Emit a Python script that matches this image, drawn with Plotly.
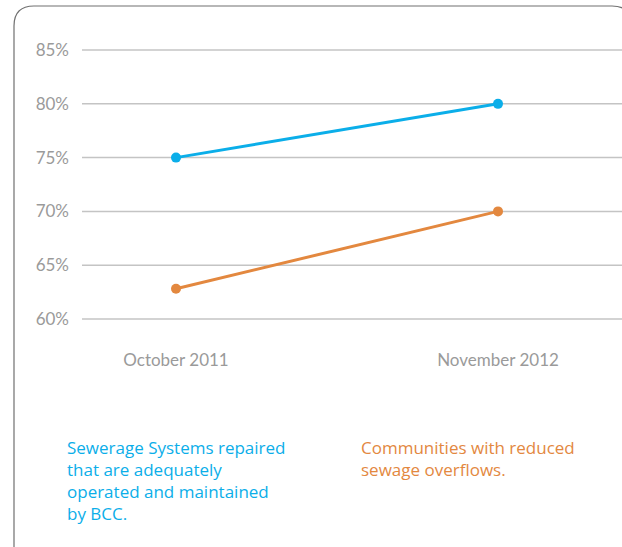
import plotly.graph_objects as go

categories = ["October 2011", "November 2012"]
sewerage_systems = [75, 80]
communities = [62.8, 70]
y_ticks = [60, 65, 70, 75, 80, 85]
y_tick_labels = ["60%", "65%", "70%", "75%", "80%", "85%"]
label_blue = "Sewerage Systems repaired<br>that are adequately<br>operated and maintained<br>by BCC."
label_orange = "Communities with reduced<br>sewage overflows."

W, H = 622, 547
BLUE = "#0BAEE9"
ORANGE = "#E3883F"
FONT = "Lato"
NOTE_FONT = "Open Sans"
GRID = "#C4C4C4"

x_idx = list(range(len(categories)))

fig = go.Figure()
fig.add_trace(go.Scatter(x=x_idx, y=sewerage_systems, mode="lines+markers",
                         line=dict(color=BLUE, width=3), marker=dict(size=10, color=BLUE),
                         hoverinfo="skip", cliponaxis=False))
fig.add_trace(go.Scatter(x=x_idx, y=communities, mode="lines+markers",
                         line=dict(color=ORANGE, width=3), marker=dict(size=10, color=ORANGE),
                         hoverinfo="skip", cliponaxis=False))

def px_x(v):
    return v / W

def px_y(v):
    return 1 - v / H

grid_shapes = [dict(type="line", xref="paper", yref="y", x0=px_x(82), x1=1.0, y0=t, y1=t,
                    line=dict(color=GRID, width=1.5), layer="below")
               for t in y_ticks]

border = dict(type="path", xref="paper", yref="paper",
              path=(f"M {px_x(14)},{px_y(560)} L {px_x(14)},{px_y(26)} "
                    f"Q {px_x(14)},{px_y(6)} {px_x(34)},{px_y(6)} "
                    f"L {px_x(612)},{px_y(6)} Q {px_x(632)},{px_y(6)} {px_x(632)},{px_y(26)} "
                    f"L {px_x(632)},{px_y(560)}"),
              fillcolor="rgba(0,0,0,0)",
              line=dict(color="#707070", width=1.2), layer="below")

fig.update_layout(
    width=W, height=H,
    margin=dict(l=0, r=0, t=0, b=0, autoexpand=False),
    paper_bgcolor="white", plot_bgcolor="rgba(0,0,0,0)",
    showlegend=False,
    font=dict(family=FONT, color="#9A9A9A", size=17),
    xaxis=dict(domain=[px_x(82), 1.0], range=[-94/322, 446/322], automargin=False,
               tickvals=x_idx, ticktext=categories, showgrid=False, zeroline=False,
               showline=False, ticks="", ticklabelstandoff=28,
               tickfont=dict(size=17, color="#9A9A9A")),
    yaxis=dict(domain=[px_y(320), px_y(49)], range=[59.9, 85.1], automargin=False,
               tickvals=y_ticks, ticktext=y_tick_labels, showgrid=False,
               zeroline=False, showline=False,
               ticks="", ticklabelstandoff=12,
               tickfont=dict(size=17, color="#9A9A9A")),
    shapes=grid_shapes + [border],
    annotations=[
        dict(x=px_x(65), y=px_y(434), xref="paper", yref="paper", xanchor="left", yanchor="top",
             text=label_blue, showarrow=False, align="left",
             font=dict(family=NOTE_FONT, size=17, color=BLUE)),
        dict(x=px_x(359), y=px_y(434), xref="paper", yref="paper", xanchor="left", yanchor="top",
             text=label_orange, showarrow=False, align="left",
             font=dict(family=NOTE_FONT, size=17, color=ORANGE)),
    ],
)

fig.write_html("out.html")
